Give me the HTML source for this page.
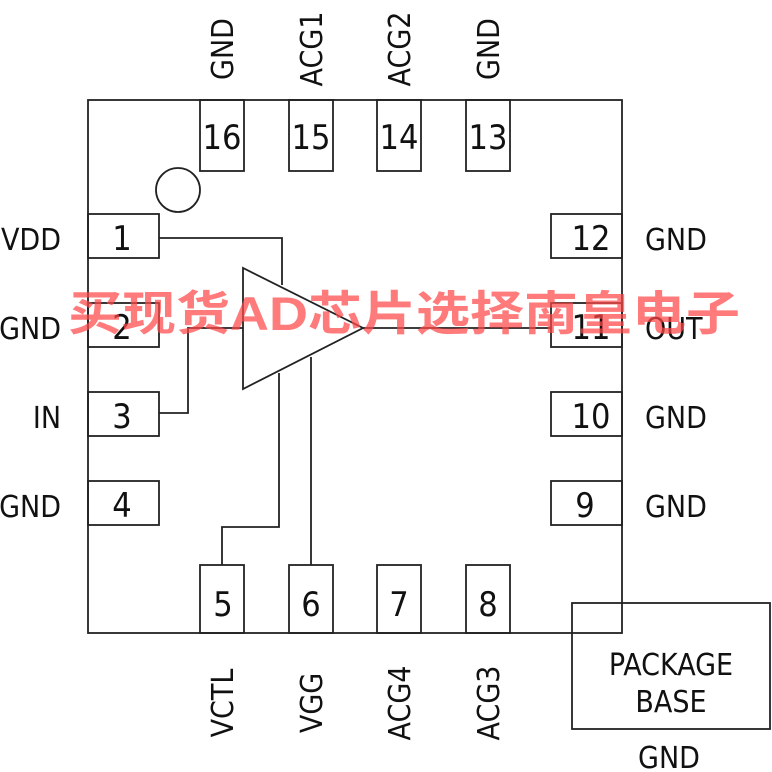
<!DOCTYPE html>
<html><head><meta charset="utf-8"><style>
html,body{margin:0;padding:0;background:#fff;width:772px;height:772px;overflow:hidden}
svg{display:block}
.t{font-family:"Liberation Sans Narrow","DejaVu Sans Condensed","Liberation Sans",sans-serif;font-size:30px;fill:#111}
.n{font-size:34px}
.w{font-family:"Liberation Sans","Noto Sans CJK SC",sans-serif;font-size:47px;font-weight:bold;fill:rgba(255,70,70,0.72)}
</style></head><body>
<svg width="772" height="772" viewBox="0 0 772 772" xmlns="http://www.w3.org/2000/svg">
<g fill="none" stroke="#222" stroke-width="1.8">
<rect x="88" y="100" width="534" height="533"/>
<circle cx="178" cy="190" r="22"/>
<rect x="200" y="100" width="44" height="71"/>
<rect x="289" y="100" width="44" height="71"/>
<rect x="377" y="100" width="44" height="71"/>
<rect x="466" y="100" width="44" height="71"/>
<rect x="200" y="565" width="44" height="68"/>
<rect x="289" y="565" width="44" height="68"/>
<rect x="377" y="565" width="44" height="68"/>
<rect x="466" y="565" width="44" height="68"/>
<rect x="88" y="214" width="71" height="44"/>
<rect x="88" y="303" width="71" height="44"/>
<rect x="88" y="392" width="71" height="44"/>
<rect x="88" y="481" width="71" height="44"/>
<rect x="551" y="214" width="71" height="44"/>
<rect x="551" y="303" width="71" height="44"/>
<rect x="551" y="392" width="71" height="44"/>
<rect x="551" y="481" width="71" height="44"/>
<rect x="572" y="603" width="198" height="126"/>
<polygon points="243,268 243,389 363,328"/>
<polyline points="159,238 282,238 282,285"/>
<polyline points="159,413 188,413 188,328 243,328"/>
<line x1="363" y1="328" x2="551" y2="328"/>
<polyline points="222,565 222,527 279,527 279,373"/>
<line x1="311" y1="565" x2="311" y2="357"/>
</g>
<g class="t">
<g class="n">
<text x="222" y="149" text-anchor="middle">16</text>
<text x="311" y="149" text-anchor="middle">15</text>
<text x="399" y="149" text-anchor="middle">14</text>
<text x="488" y="149" text-anchor="middle">13</text>
<text x="223" y="616" text-anchor="middle">5</text>
<text x="311" y="616" text-anchor="middle">6</text>
<text x="399" y="616" text-anchor="middle">7</text>
<text x="488" y="616" text-anchor="middle">8</text>
<text x="122" y="250" text-anchor="middle">1</text>
<text x="122" y="339" text-anchor="middle">2</text>
<text x="122" y="428" text-anchor="middle">3</text>
<text x="122" y="517" text-anchor="middle">4</text>
<text x="591" y="250" text-anchor="middle">12</text>
<text x="591" y="339" text-anchor="middle">11</text>
<text x="591" y="428" text-anchor="middle">10</text>
<text x="585" y="517" text-anchor="middle">9</text>
</g>
<text x="61" y="250" text-anchor="end">VDD</text>
<text x="61" y="339" text-anchor="end">GND</text>
<text x="61" y="428" text-anchor="end">IN</text>
<text x="61" y="517" text-anchor="end">GND</text>
<text x="645" y="250">GND</text>
<text x="645" y="339">OUT</text>
<text x="645" y="428">GND</text>
<text x="645" y="517">GND</text>
<text transform="translate(233,49) rotate(-90)" text-anchor="middle">GND</text>
<text transform="translate(322,49) rotate(-90)" text-anchor="middle">ACG1</text>
<text transform="translate(410,49) rotate(-90)" text-anchor="middle">ACG2</text>
<text transform="translate(499,49) rotate(-90)" text-anchor="middle">GND</text>
<text transform="translate(233,703) rotate(-90)" text-anchor="middle">VCTL</text>
<text transform="translate(322,703) rotate(-90)" text-anchor="middle">VGG</text>
<text transform="translate(410,703) rotate(-90)" text-anchor="middle">ACG4</text>
<text transform="translate(499,703) rotate(-90)" text-anchor="middle">ACG3</text>
<text x="671" y="675" text-anchor="middle">PACKAGE</text>
<text x="671" y="712" text-anchor="middle">BASE</text>
<text x="669" y="768" text-anchor="middle">GND</text>
</g>
<text class="w" x="404" y="330" text-anchor="middle" textLength="672" lengthAdjust="spacingAndGlyphs">买现货AD芯片选择南皇电子</text>
</svg>
</body></html>
